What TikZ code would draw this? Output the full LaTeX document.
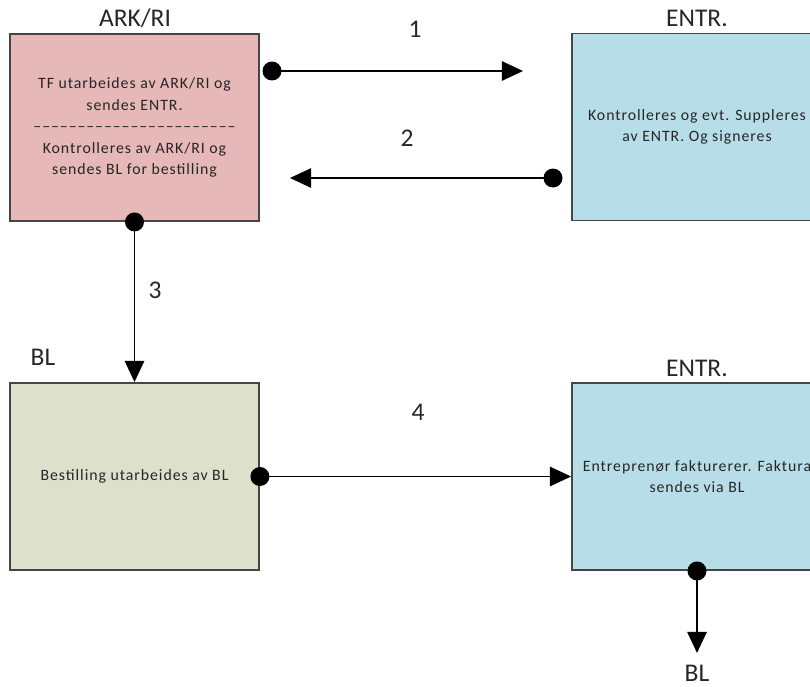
\documentclass[tikz,border=0pt]{standalone}
\usepackage{fontspec}
\setmainfont{Carlito}
\newfontfamily\boxfont[LetterSpace=6]{Carlito}
\usetikzlibrary{arrows.meta}
\definecolor{arkpink}{HTML}{E6B8B7}
\definecolor{entrblue}{HTML}{B7DEE8}
\definecolor{blgreen}{HTML}{DDE0CB}
\definecolor{boxgray}{HTML}{454545}
\definecolor{textgray}{HTML}{262626}

\begin{document}
\begin{tikzpicture}[x=0.02cm,y=-0.02cm]
% Stiler
\tikzset{box/.style={rectangle,draw=boxgray,line width=1.1pt,minimum width=4.98cm,minimum height=3.74cm,align=center,text=textgray,font=\boxfont\fontsize{9}{12.3}\selectfont},
  black dot/.style={circle,fill=black,minimum size=0.38cm,inner sep=0pt},
  flow/.style={line width=1pt,-{Triangle[length=12pt,width=11pt]}},
  title/.style={text=textgray,font=\fontsize{14.5}{16}\selectfont}}

\useasboundingbox (0,0) rectangle (810,686);
\clip (0,0) rectangle (810,686);

% Bokser
\node[box,fill=arkpink] (ark) at (134.5,127.5) {TF utarbeides av ARK/RI og\\sendes ENTR.\\–––––––––––––––––––––––\\Kontrolleres av ARK/RI og\\sendes BL for bestilling};
\node[box,fill=entrblue,minimum width=5cm] (entr1) at (697,127) {Kontrolleres og evt. Suppleres\\av ENTR. Og signeres};
\node[box,fill=blgreen] (bl) at (134.5,476.5) {Bestilling utarbeides av BL};
\node[box,fill=entrblue,minimum width=5cm] (entr2) at (697,476.5) {Entreprenør fakturerer. Faktura\\sendes via BL};

% Overskrifter
\node[title] (t ark) at (135,18) {ARK/RI};
\node[title] (t entr1) at (697,18) {ENTR.};
\node[title] (t bl) at (43,357) {BL};
\node[title] (t entr2) at (697,368) {ENTR.};
\node[title,anchor=base,inner sep=0pt] (t ut) at (697,681) {BL};

% Nummer
\node[title] (n1) at (415,29) {1};
\node[title] (n2) at (407,138) {2};
\node[title] (n3) at (155,290) {3};
\node[title] (n4) at (418,412) {4};

% Punkter og piler
\node[black dot] (d1) at (272,71) {};
\node[black dot] (d2) at (553,178) {};
\node[black dot] (d3) at (ark.south) {};
\node[black dot] (d4) at (bl.east) {};
\node[black dot] (d5) at (entr2.south) {};
\coordinate (e1) at (523,71);
\coordinate (e2) at (290,178);
\coordinate (e5) at (697,653);

\draw[flow] (d1.center) -- (e1);
\draw[flow] (d2.center) -- (e2);
\draw[flow] (d3.center) -- (bl.north);
\draw[flow] (d4.center) -- (entr2.west);
\draw[flow] (d5.center) -- (e5);

\end{tikzpicture}
\end{document}
